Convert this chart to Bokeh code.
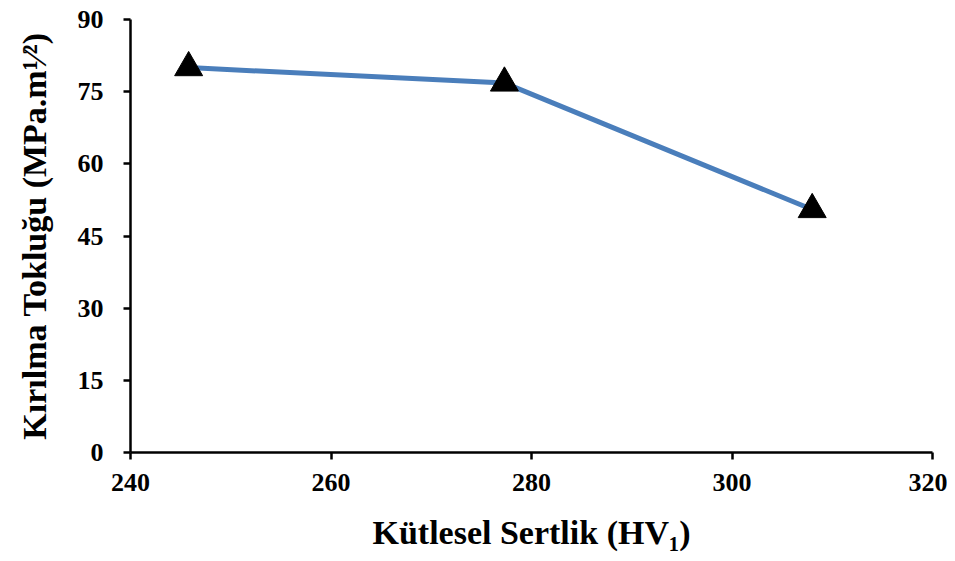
from bokeh.plotting import figure
from bokeh.models import Range1d, FixedTicker
from bokeh.embed import file_html
from bokeh.resources import INLINE

hardness = [245.8, 277.3, 308.0]
toughness = [80.0, 76.8, 50.5]
x_ticks = [240, 260, 280, 300, 320]
y_ticks = [0, 15, 30, 45, 60, 75, 90]

p = figure(width=947, height=553, output_backend="svg", toolbar_location=None,
           x_range=Range1d(240, 320), y_range=Range1d(0, 90),
           min_border_left=130, min_border_right=15, min_border_top=19, min_border_bottom=101)
p.outline_line_color = None
p.grid.visible = False

p.line(hardness, toughness, line_color="#4a7ebb", line_width=5)
p.scatter(hardness, toughness, marker="triangle", size=28, fill_color="black", line_color="black")

font = "Liberation Serif"
for ax in (p.xaxis[0], p.yaxis[0]):
    ax.axis_line_width = 2.5
    ax.axis_line_color = "black"
    ax.major_tick_line_width = 2.5
    ax.major_tick_line_color = "black"
    ax.major_tick_in = 0
    ax.major_tick_out = 7
    ax.minor_tick_line_color = None
    ax.major_label_text_font = font
    ax.major_label_text_font_style = "bold"
    ax.major_label_text_font_size = "26px"
    ax.major_label_text_color = "black"
    ax.axis_label_text_font = font
    ax.axis_label_text_font_style = "bold"
    ax.axis_label_text_font_size = "34px"
    ax.axis_label_text_color = "black"

p.xaxis.ticker = FixedTicker(ticks=x_ticks)
p.yaxis.ticker = FixedTicker(ticks=y_ticks)
p.xaxis.major_label_standoff = 14
p.yaxis.major_label_standoff = 20
p.xaxis.axis_label = "Kütlesel Sertlik (HV\u2081)"
p.yaxis.axis_label = "Kırılma Tokluğu (MPa.m\u00b9\u2044\u00b2)"
p.xaxis.axis_label_standoff = 20
p.yaxis.axis_label_standoff = 22

open("out.html", "w").write(file_html(p, INLINE))
